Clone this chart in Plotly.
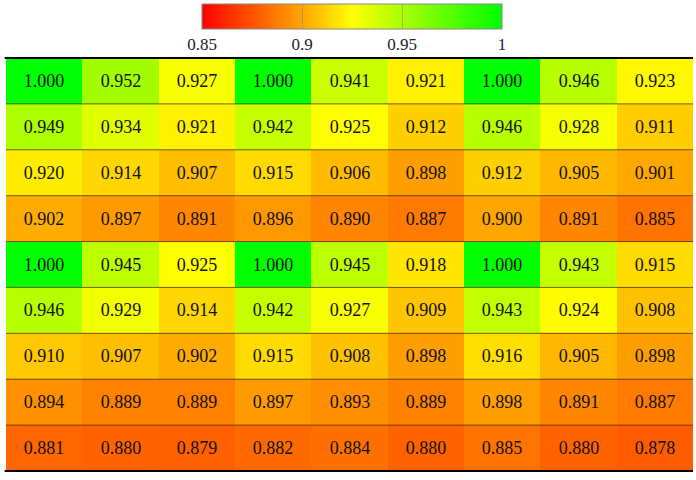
import plotly.graph_objects as go

rows = ["r1", "r2", "r3", "r4", "r5", "r6", "r7", "r8", "r9"]
cols = ["c1", "c2", "c3", "c4", "c5", "c6", "c7", "c8", "c9"]
values = [
    [1.000, 0.952, 0.927, 1.000, 0.941, 0.921, 1.000, 0.946, 0.923],
    [0.949, 0.934, 0.921, 0.942, 0.925, 0.912, 0.946, 0.928, 0.911],
    [0.920, 0.914, 0.907, 0.915, 0.906, 0.898, 0.912, 0.905, 0.901],
    [0.902, 0.897, 0.891, 0.896, 0.890, 0.887, 0.900, 0.891, 0.885],
    [1.000, 0.945, 0.925, 1.000, 0.945, 0.918, 1.000, 0.943, 0.915],
    [0.946, 0.929, 0.914, 0.942, 0.927, 0.909, 0.943, 0.924, 0.908],
    [0.910, 0.907, 0.902, 0.915, 0.908, 0.898, 0.916, 0.905, 0.898],
    [0.894, 0.889, 0.889, 0.897, 0.893, 0.889, 0.898, 0.891, 0.887],
    [0.881, 0.880, 0.879, 0.882, 0.884, 0.880, 0.885, 0.880, 0.878],
]
cb_ticks = [0.85, 0.9, 0.95, 1.0]
cb_ticktext = ["0.85", "0.9", "0.95", "1"]

zmin, zmax = 0.85, 1.0
def pos(v):
    return (v - zmin) / (zmax - zmin)

colorscale = [
    [pos(0.85), "#ff0000"],
    [pos(0.90), "#ffa500"],
    [pos(0.925), "#ffff00"],
    [pos(1.0), "#00ff00"],
]

text = [[f"{v:.3f}" for v in r] for r in values]

FONT = "Liberation Serif"
W, H = 696, 480

fig = go.Figure(go.Heatmap(
    z=values, x=cols, y=rows, text=text, texttemplate="%{text}",
    textfont=dict(family=FONT, size=18, color="#111"),
    colorscale=colorscale, zmin=zmin, zmax=zmax, hoverinfo="skip",
    colorbar=dict(
        orientation="h", x=352 / W, xanchor="center", len=300, lenmode="pixels",
        y=1 - 4 / H, yanchor="top", thickness=25, outlinewidth=1, outlinecolor="#888",
        tickvals=cb_ticks, ticktext=cb_ticktext, ticks="inside", ticklen=25,
        tickcolor="rgba(140,140,140,0.6)", tickfont=dict(family=FONT, size=17, color="#222"),
        xpad=0, ypad=0,
    ),
))

shapes = []
n = len(rows)
for i in range(n - 1):
    shapes.append(dict(type="line", xref="x domain", x0=0, x1=1, yref="y", y0=i + 0.5, y1=i + 0.5,
                       line=dict(color="rgba(60,40,0,0.7)", width=1)))
for yb in (-0.5, n - 0.5):
    shapes.append(dict(type="line", xref="x domain", x0=-0.002, x1=1, yref="y", y0=yb, y1=yb,
                       line=dict(color="black", width=2)))

fig.update_layout(
    width=W, height=H,
    margin=dict(l=0, r=0, t=0, b=0),
    paper_bgcolor="white", plot_bgcolor="white",
    xaxis=dict(visible=False, showgrid=False, domain=[6 / W, 693 / W]),
    yaxis=dict(visible=False, showgrid=False, autorange="reversed",
               domain=[1 - 472 / H, 1 - 57 / H]),
    shapes=shapes,
    font=dict(family=FONT),
)
fig.write_html("out.html", config={"displayModeBar": False},
               post_script="document.body.style.margin='0';document.body.style.overflow='hidden';")
